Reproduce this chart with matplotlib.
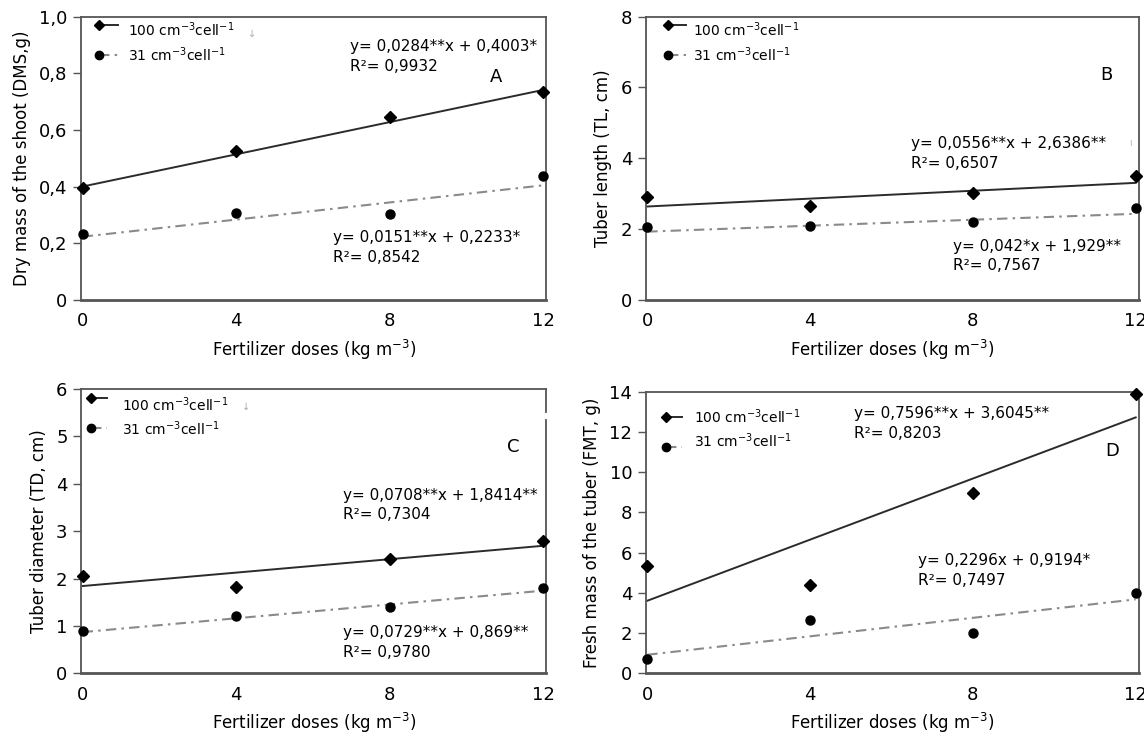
import numpy as np
import matplotlib
matplotlib.use("Agg")
import matplotlib.pyplot as plt

plt.rcParams['font.family'] = ['DejaVu Sans']
plt.rcParams['mathtext.fontset'] = 'dejavusans'

# === DATA ===
doses = [0, 4, 8, 12]
dose_ticks = [0, 4, 8, 12]

# dry mass of the shoot (g)
dms_100 = [0.394, 0.527, 0.647, 0.735]
dms_31 = [0.233, 0.306, 0.303, 0.438]
dms_fit_100 = (0.0284, 0.4003)
dms_fit_31 = (0.0151, 0.2233)
dms_eq_100 = ["y= 0,0284**x + 0,4003*", "R²= 0,9932"]
dms_eq_31 = ["y= 0,0151**x + 0,2233*", "R²= 0,8542"]
dms_ticks = [0, 0.2, 0.4, 0.6, 0.8, 1.0]
dms_ticklabels = ["0", "0,2", "0,4", "0,6", "0,8", "1,0"]

# tuber length (cm)
tl_100 = [2.90, 2.66, 3.03, 3.50]
tl_31 = [2.05, 2.09, 2.21, 2.59]
tl_fit_100 = (0.0556, 2.6386)
tl_fit_31 = (0.042, 1.929)
tl_eq_100 = ["y= 0,0556**x + 2,6386**", "R²= 0,6507"]
tl_eq_31 = ["y= 0,042*x + 1,929**", "R²= 0,7567"]
tl_ticks = [0, 2, 4, 6, 8]

# tuber diameter (cm)
td_100 = [2.05, 1.83, 2.42, 2.80]
td_31 = [0.89, 1.21, 1.39, 1.81]
td_fit_100 = (0.0708, 1.8414)
td_fit_31 = (0.0729, 0.869)
td_eq_100 = ["y= 0,0708**x + 1,8414**", "R²= 0,7304"]
td_eq_31 = ["y= 0,0729**x + 0,869**", "R²= 0,9780"]
td_ticks = [0, 1, 2, 3, 4, 5, 6]

# fresh mass of the tuber (g)
fmt_100 = [5.31, 4.41, 8.96, 13.9]
fmt_31 = [0.71, 2.64, 1.98, 3.99]
fmt_fit_100 = (0.7596, 3.6045)
fmt_fit_31 = (0.2296, 0.9194)
fmt_eq_100 = ["y= 0,7596**x + 3,6045**", "R²= 0,8203"]
fmt_eq_31 = ["y= 0,2296x + 0,9194*", "R²= 0,7497"]
fmt_ticks = [0, 2, 4, 6, 8, 10, 12, 14]

lbl_100 = r"100 cm$^{-3}$cell$^{-1}$"
lbl_31 = r"31 cm$^{-3}$cell$^{-1}$"
xlabel = r"Fertilizer doses (kg m$^{-3}$)"

# === STYLE ===
DARK = "#2b2b2b"
GREY = "#8a8a8a"
SPINE = "#555555"
DASHDOT = (0, (5, 2.5, 1.2, 2.5))


def draw_panel(ax, y100, y31, fit100, fit31, eq100, eq31, yticks, yticklabels,
               ylabel, letter, eq100_xy, eq31_xy, letter_xy, leg, arrow=None,
               split_right=None):
    xs = np.array([0, 12])
    ax.plot(xs, np.polyval(fit100, xs), color=DARK, lw=1.4, zorder=2)
    ax.plot(xs, np.polyval(fit31, xs), color=GREY, lw=1.5, ls=DASHDOT, zorder=2)
    ax.plot(doses, y100, ls="none", marker="D", ms=6, color="black", zorder=3, clip_on=False)
    ax.plot(doses, y31, ls="none", marker="o", ms=6.5, color="black", zorder=3, clip_on=False)

    ax.set_xlim(-0.03, 12.08)
    ax.set_ylim(yticks[0], yticks[-1])
    ax.set_xticks(dose_ticks)
    ax.set_yticks(yticks)
    ax.set_yticklabels(yticklabels)
    ax.tick_params(axis="y", direction="out", length=6, width=1, pad=4,
                   labelsize=13, color=SPINE)
    ax.tick_params(axis="x", length=0, pad=9, labelsize=13)
    ax.set_xlabel(xlabel, fontsize=12, labelpad=5)
    ax.set_ylabel(ylabel, fontsize=12, labelpad=6)

    for s in ["left", "top", "right"]:
        ax.spines[s].set_color(SPINE)
        ax.spines[s].set_linewidth(1.3)
    ax.spines["bottom"].set_color(SPINE)
    ax.spines["bottom"].set_linewidth(2.0)

    if split_right is not None:
        ax.spines["right"].set_visible(False)
        ax.plot([1, 1], [0, split_right[0]], transform=ax.transAxes, color=SPINE,
                lw=1.3, clip_on=False)
        ax.plot([1, 1], [split_right[1], 1], transform=ax.transAxes, color=SPINE,
                lw=1.3, clip_on=False)

    # equations
    x, y1, y2 = eq100_xy
    ax.text(x, y1, eq100[0], transform=ax.transAxes, fontsize=11, va="center")
    ax.text(x, y2, eq100[1], transform=ax.transAxes, fontsize=11, va="center")
    x, y1, y2 = eq31_xy
    ax.text(x, y1, eq31[0], transform=ax.transAxes, fontsize=11, va="center")
    ax.text(x, y2, eq31[1], transform=ax.transAxes, fontsize=11, va="center")
    ax.text(letter_xy[0], letter_xy[1], letter, transform=ax.transAxes,
            fontsize=13, ha="center", va="center")

    # legend drawn by hand (marker at left end of the line)
    mx, lx, tx, (m1, t1), (m2, t2) = leg
    ax.plot([mx, lx], [m1, m1], transform=ax.transAxes, color=DARK, lw=1.4,
            marker="D", ms=5.5, markevery=[0], mfc="black", mec="black", clip_on=False)
    ax.plot([mx, lx], [m2, m2], transform=ax.transAxes, color=GREY, lw=1.5,
            ls=DASHDOT, marker="o", ms=6, markevery=[0], mfc="black", mec="black",
            clip_on=False)
    ax.text(tx, t1, lbl_100, transform=ax.transAxes, fontsize=10, va="center")
    ax.text(tx, t2, lbl_31, transform=ax.transAxes, fontsize=10, va="center")
    if arrow is not None:
        ax.text(arrow[0], arrow[1], "↓", transform=ax.transAxes, fontsize=7,
                color="#aaaaaa", ha="center", va="center")


# === FIGURE ===
fig = plt.figure(figsize=(11.44, 7.38), dpi=100)
ax_a = fig.add_axes([0.0712, 0.5935, 0.4063, 0.3841])
ax_b = fig.add_axes([0.5647, 0.5935, 0.4309, 0.3841])
ax_c = fig.add_axes([0.0712, 0.0877, 0.4063, 0.3852])
ax_d = fig.add_axes([0.5647, 0.0877, 0.4309, 0.3816])

draw_panel(ax_a, dms_100, dms_31, dms_fit_100, dms_fit_31, dms_eq_100, dms_eq_31,
           dms_ticks, dms_ticklabels, "Dry mass of the shoot (DMS,g)", "A",
           (0.578, 0.893, 0.823), (0.541, 0.220, 0.150), (0.892, 0.788),
           (0.038, 0.079, 0.100, (0.970, 0.955), (0.864, 0.864)),
           arrow=(0.367, 0.94))

draw_panel(ax_b, tl_100, tl_31, tl_fit_100, tl_fit_31, tl_eq_100, tl_eq_31,
           tl_ticks, [str(t) for t in tl_ticks], "Tuber length (TL, cm)", "B",
           (0.537, 0.553, 0.482), (0.622, 0.188, 0.123), (0.934, 0.794),
           (0.045, 0.082, 0.095, (0.970, 0.955), (0.864, 0.864)))
ax_b.text(0.982, 0.555, "ı", transform=ax_b.transAxes, fontsize=7, color="#bbbbbb",
          ha="center", va="center")

draw_panel(ax_c, td_100, td_31, td_fit_100, td_fit_31, td_eq_100, td_eq_31,
           td_ticks, [str(t) for t in td_ticks], "Tuber diameter (TD, cm)", "C",
           (0.562, 0.627, 0.557), (0.562, 0.143, 0.072), (0.929, 0.795),
           (0.020, 0.056, 0.087, (0.967, 0.944), (0.862, 0.862)),
           arrow=(0.355, 0.938), split_right=(0.89, 0.92))

draw_panel(ax_d, fmt_100, fmt_31, fmt_fit_100, fmt_fit_31, fmt_eq_100, fmt_eq_31,
           fmt_ticks, [str(t) for t in fmt_ticks], "Fresh mass of the tuber (FMT, g)", "D",
           (0.422, 0.923, 0.852), (0.552, 0.402, 0.331), (0.945, 0.791),
           (0.041, 0.073, 0.098, (0.911, 0.911), (0.802, 0.825)))

fig.savefig("out.png", dpi=100)
